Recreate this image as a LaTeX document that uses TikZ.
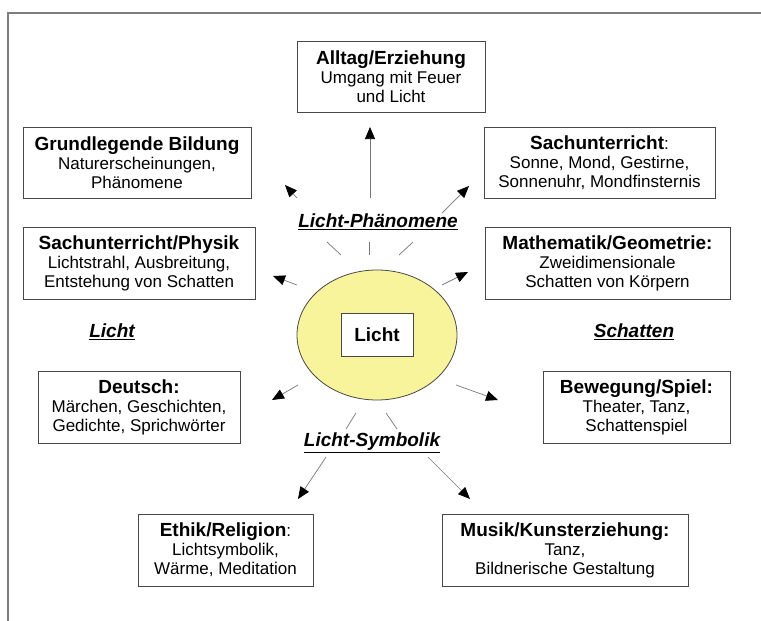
\documentclass[tikz,border=0pt]{standalone}
\usepackage{fontspec}
\setmainfont{Liberation Sans}
\usetikzlibrary{arrows.meta,shapes.geometric}
\definecolor{edge}{HTML}{484848}
\definecolor{ray}{HTML}{767676}
\definecolor{frm}{HTML}{7E7E7E}
\definecolor{sunfill}{HTML}{F8F49C}
\newcommand{\ttl}[1]{{\fontsize{19}{21}\selectfont\bfseries #1}}
\tikzset{
  >={Triangle[length=12pt,width=10pt,color=black]},
  box/.style={draw=edge, line width=0.9pt, fill=white, align=center, inner sep=0pt,
              minimum height=71pt, font=\fontsize{17}{19}\selectfont},
  topic/.style={font=\fontsize{19}{22}\selectfont\bfseries\itshape},
  l/.style={->, line width=0.7pt, draw=ray},
  beam/.style={line width=0.7pt, draw=ray},
}

\begin{document}
\begin{tikzpicture}[x=1pt,y=-1pt]
  \useasboundingbox (0,0) rectangle (761,621);
  \draw[frm, line width=1.4pt] (8,621) -- (8,13) -- (761,13);

  % centre
  \node[ellipse, draw=edge, fill=sunfill, line width=0.8pt, minimum width=160pt,
        minimum height=130pt] (sun) at (377,335) {};
  \node[box, minimum width=72pt, minimum height=43pt] (licht) at (377,334.5) {\ttl{Licht}};

  % subject boxes
  \node[box, minimum width=188pt] (alltag) at (391,76.5)
    {\ttl{Alltag/Erziehung}\\Umgang mit Feuer\\und Licht};
  \node[box, minimum width=228pt] (grund) at (137,162.5)
    {\ttl{Grundlegende Bildung}\\Naturerscheinungen,\\Phänomene};
  \node[box, minimum width=231pt] (sach) at (599.5,162.5)
    {\ttl{Sachunterricht}:\\Sonne, Mond, Gestirne,\\Sonnenuhr, Mondfinsternis};
  \node[box, minimum width=232pt, minimum height=72pt] (physik) at (139,263)
    {\ttl{Sachunterricht/Physik}\\Lichtstrahl, Ausbreitung,\\Entstehung von Schatten};
  \node[box, minimum width=245pt, minimum height=72pt] (mathe) at (607.5,263)
    {\ttl{Mathematik/Geometrie:}\\Zweidimensionale\\Schatten von Körpern};
  \node[box, minimum width=202pt, minimum height=72pt] (deutsch) at (139,407)
    {\ttl{Deutsch:}\\Märchen, Geschichten,\\Gedichte, Sprichwörter};
  \node[box, minimum width=187pt, minimum height=72pt] (spiel) at (636.5,407)
    {\ttl{Bewegung/Spiel:}\\Theater, Tanz,\\Schattenspiel};
  \node[box, minimum width=175pt, minimum height=72pt] (ethik) at (225.5,550)
    {\ttl{Ethik/Religion}:\\Lichtsymbolik,\\Wärme, Meditation};
  \node[box, minimum width=246pt, minimum height=72pt] (musik) at (565,550)
    {\ttl{Musik/Kunsterziehung:}\\Tanz,\\Bildnerische Gestaltung};

  % topic labels
  \node[topic] (phaen) at (378,222) {\underline{Licht-Phänomene}};
  \node[topic] (llicht) at (112,332) {\underline{Licht}};
  \node[topic] (lschatten) at (634,332) {\underline{Schatten}};
  \node[topic] (symb) at (372,443) {\underline{Licht-Symbolik}};

  % arrow ends
  \coordinate (a1) at (370,198); \coordinate (b1) at (370,127);
  \coordinate (a2) at (297,198); \coordinate (b2) at (285,185);
  \coordinate (a3) at (442,213); \coordinate (b3) at (469,186);
  \coordinate (a4) at (297,285); \coordinate (b4) at (273,276);
  \coordinate (a5) at (442,285); \coordinate (b5) at (468,272);
  \coordinate (a6) at (298,385); \coordinate (b6) at (272,400);
  \coordinate (a7) at (456,385); \coordinate (b7) at (498,400);
  \coordinate (a8) at (326,457); \coordinate (b8) at (298,499);
  \coordinate (a9) at (428,457); \coordinate (b9) at (470,499);
  \foreach \i in {1,...,9} \draw[l] (a\i) -- (b\i);

  % rays
  \draw[beam] (327,242) -- (341,255);
  \draw[beam] (369,242) -- (369,255);
  \draw[beam] (413,242) -- (399,255);
  \draw[beam] (356,413) -- (346,429);
  \draw[beam] (386,413) -- (397,429);
\end{tikzpicture}
\end{document}
